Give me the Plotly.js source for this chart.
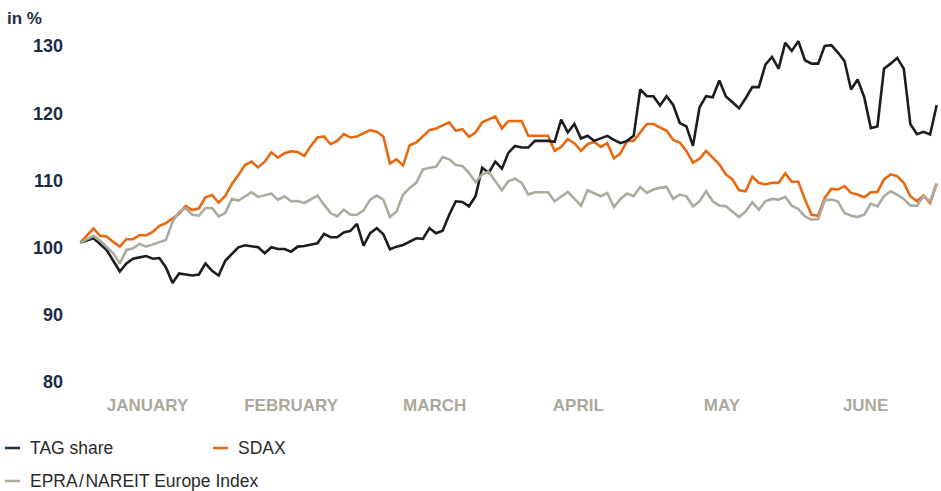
<!DOCTYPE html>
<html>
<head>
<meta charset="utf-8">
<script src="https://cdn.plot.ly/plotly-3.0.1.min.js"></script>
<style>html,body{margin:0;padding:0;background:#fff;}#chart{width:941px;height:491px;}</style>
</head>
<body>
<div id="chart"></div>
<script>
// Trading-day index (first half-year), values indexed to 100 at start
const tagShare = [100.0,100.3,100.65,99.8,98.9,97.3,95.7,96.9,97.6,97.8,98.0,97.6,97.7,96.3,94.0,95.4,95.3,95.1,95.25,96.9,
95.8,95.1,97.3,98.3,99.3,99.6,99.5,99.3,98.4,99.3,99.05,99.05,98.65,99.4,99.5,99.7,99.9,101.3,100.8,100.8,
101.5,101.75,102.8,99.55,101.4,102.15,101.25,99.0,99.4,99.65,100.15,100.65,100.55,102.15,101.4,101.75,104.15,106.15,106.05,105.4,
106.9,111.15,110.4,112.05,111.0,113.4,114.4,114.15,114.15,115.15,115.15,115.15,115.0,118.3,116.4,117.65,115.5,115.9,115.15,115.5,
115.9,115.3,114.8,115.15,115.9,122.8,121.8,121.8,120.4,121.8,120.5,117.8,117.3,114.4,120.15,121.8,121.65,124.15,121.75,120.9,
120.0,121.5,123.15,123.15,126.5,127.65,125.9,129.75,128.55,130.0,127.15,126.65,126.65,129.3,129.4,128.3,127.05,122.8,124.3,121.65,
117.05,117.3,125.9,126.65,127.5,125.9,117.65,116.15,116.5,116.1,120.5];

const sdax = [100.0,101.1,102.1,101.0,100.9,100.1,99.4,100.5,100.5,101.1,101.1,101.6,102.5,102.9,103.6,104.3,105.45,104.85,105.1,106.75,
107.1,105.95,106.95,108.7,110.05,111.55,112.05,111.2,112.05,113.45,112.65,113.3,113.6,113.5,112.9,114.4,115.65,115.8,114.65,115.15,
116.15,115.65,115.8,116.3,116.75,116.5,115.8,111.8,112.4,111.5,114.5,114.9,115.8,116.75,117.0,117.4,117.9,116.65,116.9,115.75,
116.4,117.9,118.3,118.8,117.0,118.1,118.1,118.1,115.9,115.9,115.9,115.9,113.65,114.25,115.4,114.8,113.65,114.65,115.0,114.25,
114.8,112.55,113.3,115.15,115.15,116.4,117.65,117.65,117.15,116.65,115.3,114.9,113.65,111.9,112.5,113.65,112.65,111.65,110.15,109.4,
107.8,107.65,109.8,108.9,108.65,108.9,108.9,110.3,109.05,109.05,106.4,104.15,104.0,106.65,108.0,107.9,108.4,107.4,107.15,106.75,
107.5,107.55,109.4,110.15,109.9,108.9,106.9,106.15,107.0,105.9,108.8];

const epra = [100.0,100.5,101.0,100.3,99.4,98.4,96.9,98.9,99.15,99.8,99.4,99.75,100.1,100.4,103.1,104.6,105.15,104.15,104.0,105.15,
105.15,103.9,104.4,106.5,106.25,106.9,107.5,106.8,107.0,107.3,106.4,106.9,106.15,106.2,105.9,106.5,107.0,105.65,104.4,103.9,
104.9,104.15,104.15,104.8,106.4,107.0,106.4,103.8,104.65,107.15,108.15,108.9,110.9,111.15,111.3,112.75,112.4,111.55,111.4,110.4,
109.0,110.15,110.55,109.15,107.8,109.15,109.5,108.9,107.15,107.5,107.5,107.5,106.15,106.9,107.55,106.55,105.5,107.8,107.4,106.9,
107.4,105.3,106.5,107.3,106.9,108.3,107.4,107.9,108.15,108.3,106.5,107.15,106.9,105.4,106.15,107.65,106.15,105.5,105.4,104.65,
103.8,104.65,106.0,104.9,106.15,106.5,106.4,106.8,105.5,105.0,103.9,103.4,103.5,106.3,106.4,106.15,104.4,104.0,103.8,104.15,
105.8,105.4,106.9,107.65,107.15,106.5,105.5,105.5,106.9,106.15,108.8];

const months = ["JANUARY","FEBRUARY","MARCH","APRIL","MAY","JUNE"];
const yTicks = [80, 90, 100, 110, 120, 130];
const seriesNames = ["TAG share", "SDAX", "EPRA\u200a/\u200aNAREIT Europe Index"];

const days = tagShare.map((_, i) => i);
const colTag = "#1c1d20", colSdax = "#e8690f", colEpra = "#adab9f";

const traces = [
  {x: days, y: sdax, name: seriesNames[1], type: "scatter", mode: "lines",
   line: {color: colSdax, width: 2.6}, hoverinfo: "skip"},
  {x: days, y: tagShare, name: seriesNames[0], type: "scatter", mode: "lines",
   line: {color: colTag, width: 2.6}, hoverinfo: "skip"},
  {x: days, y: epra, name: seriesNames[2], type: "scatter", mode: "lines",
   line: {color: colEpra, width: 2.6}, hoverinfo: "skip"}
];

// month labels centred in each month (about 21.8 trading days per month)
const monthPos = months.map((m, k) => 10.2 + k * 21.8);

const L = 77, R = 1, T = 21, B = 98;
const W = 941, H = 491;
const pw = W - L - R, ph = H - T - B;
function px2paperX(px) { return (px - L) / pw; }
function px2paperY(py) { return (H - B - py) / ph; }

const legendItems = [
  {name: seriesNames[0], color: "#1e2f47", x: 5, y: 448},
  {name: seriesNames[1], color: colSdax, x: 213, y: 448},
  {name: seriesNames[2], color: colEpra, x: 5, y: 481}
];
const shapes = legendItems.map(it => ({
  type: "line", xref: "paper", yref: "paper",
  x0: px2paperX(it.x), x1: px2paperX(it.x + 15),
  y0: px2paperY(it.y), y1: px2paperY(it.y),
  line: {color: it.color, width: 2.5}
}));
const annotations = legendItems.map(it => ({
  xref: "paper", yref: "paper", x: px2paperX(it.x + 23), y: px2paperY(it.y),
  xanchor: "left", yanchor: "middle", showarrow: false, text: it.name,
  font: {family: "Liberation Sans, Arial, sans-serif", size: 17.5, color: "#2a2a2a"}
}));
annotations.push({
  xref: "paper", yref: "paper", x: px2paperX(5), y: px2paperY(18),
  xanchor: "left", yanchor: "middle", showarrow: false, text: "<b>in %</b>",
  font: {family: "Liberation Sans, Arial, sans-serif", size: 17, color: "#1b2c45"}
});

const layout = {
  width: W, height: H,
  margin: {l: L, r: R, t: T, b: B, pad: 0},
  paper_bgcolor: "#ffffff", plot_bgcolor: "#ffffff",
  showlegend: false,
  xaxis: {
    range: [-0.5, tagShare.length - 0.5],
    showgrid: false, zeroline: false, showline: false, ticks: "",
    tickvals: monthPos, ticktext: months,
    tickfont: {family: "Liberation Sans, Arial, sans-serif", size: 17, color: "#aba99e", weight: "bold"},
    fixedrange: true
  },
  yaxis: {
    range: [77.6, 133],
    showgrid: false, zeroline: false, showline: false, ticks: "",
    tickvals: yTicks, ticktext: yTicks.map(String),
    ticklabelshift: 5, ticklabelstandoff: 13,
    tickfont: {family: "Liberation Sans, Arial, sans-serif", size: 18, color: "#1b2c45", weight: "bold"},
    fixedrange: true
  },
  shapes: shapes,
  annotations: annotations
};

Plotly.newPlot("chart", traces, layout, {displayModeBar: false, staticPlot: true});
</script>
</body>
</html>
